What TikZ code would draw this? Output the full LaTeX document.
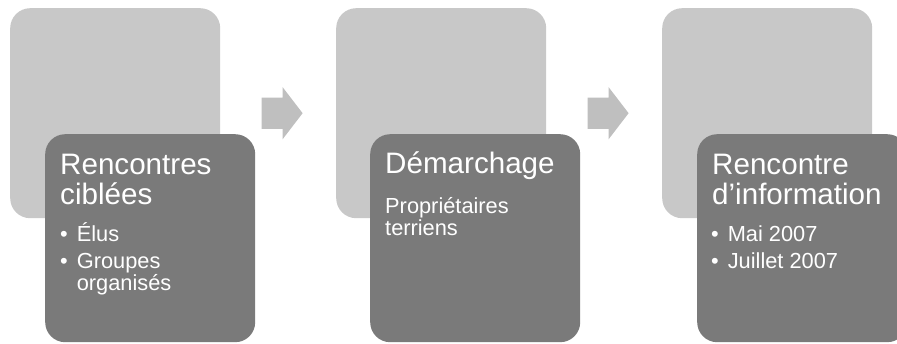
\documentclass[tikz,border=0pt]{standalone}
\usepackage{fontspec}
\setmainfont{Liberation Sans}
\usepackage{xcolor}
\usetikzlibrary{positioning,calc,shapes.arrows}

\definecolor{backgray}{RGB}{200,200,200}
\definecolor{frontgray}{RGB}{122,122,122}
\definecolor{arrowgray}{RGB}{191,191,191}

\begin{document}
\begin{tikzpicture}[
        x=1pt, y=-1pt,
        backbox/.style={
            fill=backgray,
            rounded corners=20pt,
            anchor=north west,
            inner sep=0pt,
            minimum width=210pt,
            minimum height=210pt
        },
        frontbox/.style={
            fill=frontgray,
            rounded corners=20pt,
            anchor=north west,
            inner sep=0pt,
            minimum width=210pt,
            minimum height=208pt
        },
        titletext/.style={
            text=white,
            anchor=base west,
            inner sep=0pt,
            font=\fontsize{29.6}{29.8}\selectfont
        },
        subtext/.style={
            text=white,
            anchor=base west,
            inner sep=0pt,
            font=\fontsize{21.8}{21.6}\selectfont
        },
        steparrow/.style={
            single arrow,
            fill=arrowgray,
            anchor=west,
            inner xsep=0pt,
            inner ysep=15.5pt,
            minimum width=52pt,
            minimum height=41pt,
            single arrow head extend=10.5pt,
            single arrow tip angle=105
        }
    ]
        \useasboundingbox (0,0) rectangle (897,343);

        % Back boxes
        \node[backbox] (back1) at (10,8) {};
        \node[backbox] (back2) at (336,8) {};
        \node[backbox] (back3) at (662,8) {};

        % Front boxes
        \node[frontbox] (front1) at ($(back1.north west)+(35,126)$) {};
        \node[frontbox] (front2) at ($(back2.north west)+(34,126)$) {};
        \node[frontbox] (front3) at ($(back3.north west)+(35,126)$) {};

        % Arrows
        \node[steparrow, right=41pt of back1.east] (arrow1) {};
        \node[steparrow, right=41pt of back2.east] (arrow2) {};

        % Texts
        \node[titletext] (title1) at ($(front1.north west)+(15,40)$)
            {\begin{tabular}[t]{@{}l@{}}Rencontres\\ciblées\end{tabular}};
        \node[subtext] (list1) at ($(front1.north west)+(15,107)$)
            {\begin{tabular}[t]{@{}l@{\hspace{9pt}}l@{}}\textbullet & Élus\\[5.5pt]
             \textbullet & Groupes\\ & organisés\end{tabular}};

        \node[titletext] (title2) at ($(front2.north west)+(15,39)$)
            {\begin{tabular}[t]{@{}l@{}}Démarchage\end{tabular}};
        \node[subtext] (list2) at ($(front2.north west)+(15,79)$)
            {\begin{tabular}[t]{@{}l@{}}Propriétaires\\terriens\end{tabular}};

        \node[titletext] (title3) at ($(front3.north west)+(15,40)$)
            {\begin{tabular}[t]{@{}l@{}}Rencontre\\d’information\end{tabular}};
        \node[subtext] (list3) at ($(front3.north west)+(14,107)$)
            {\begin{tabular}[t]{@{}l@{\hspace{9pt}}l@{}}\textbullet & Mai 2007\\[5.5pt]
             \textbullet & Juillet 2007\end{tabular}};

    \end{tikzpicture}
\end{document}
